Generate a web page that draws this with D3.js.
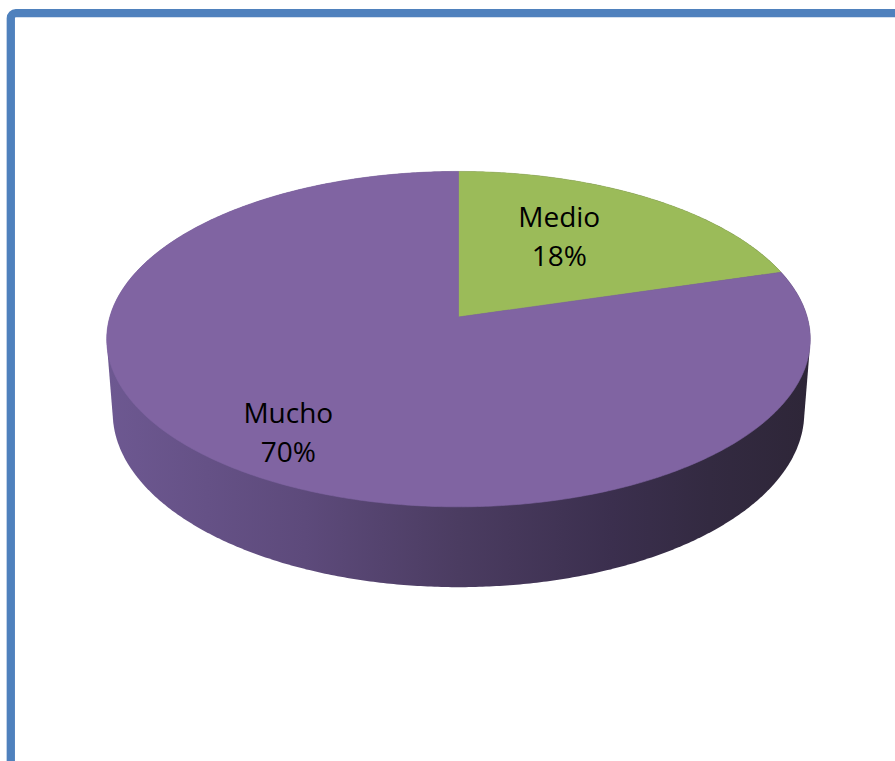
<!DOCTYPE html>
<html>
<head>
<meta charset="utf-8">
<script src="https://cdn.jsdelivr.net/npm/d3@7"></script>
<style>
  html, body { margin: 0; padding: 0; background: #ffffff; }
  svg { display: block; }
</style>
</head>
<body>
<svg id="chart" width="895" height="761"></svg>
<script>
// Survey answers and their shares
const categories = ["Medio", "Mucho"];
const values = [18, 70];
const percentLabels = ["18%", "70%"];
const sliceColors = ["#9BBB59", "#8064A2"];

const W = 895, H = 761;
const svg = d3.select("#chart");

// Rounded blue frame running off the right and bottom edges
svg.append("rect")
  .attr("x", 10.8).attr("y", 13.2)
  .attr("width", W + 20).attr("height", H + 20)
  .attr("rx", 5)
  .attr("fill", "#ffffff")
  .attr("stroke", "#4F81BD")
  .attr("stroke-width", 8.3);

// Simple perspective camera for a tilted 3D disc
const cx = 458.5, cy = 317;          // screen position of the disc centre
const scale = 348.7;                  // pixels per unit radius
const tilt = 28.2 * Math.PI / 180;    // elevation of the viewpoint
const dist = 6.68;                    // camera distance in radius units
const thickness = 0.242;              // disc height in radius units
const sinA = Math.sin(tilt), cosA = Math.cos(tilt);

// theta: clockwise from the far point (12 o'clock), r: radius, y: height
function project(theta, r, y) {
  const x = r * Math.sin(theta);
  const z = -r * Math.cos(theta);
  const up = -z * sinA + y * cosA;
  const toward = z * cosA + y * sinA;
  const s = dist / (dist - toward);
  return [cx + scale * x * s, cy - scale * up * s];
}

const pie = d3.pie().sort(null).value(d => d);
const arcs = pie(values);

const defs = svg.append("defs");
const sideGrad = defs.append("linearGradient")
  .attr("id", "sideShade")
  .attr("gradientUnits", "userSpaceOnUse")
  .attr("x1", cx - scale).attr("y1", 0)
  .attr("x2", cx + scale).attr("y2", 0);
[[0, "#6d5891"], [0.28, "#5d4a7b"], [0.5, "#4b3c61"], [0.72, "#3b2f4e"], [0.86, "#332a41"], [1, "#2e2638"]]
  .forEach(([o, c]) => sideGrad.append("stop").attr("offset", o).attr("stop-color", c));

// Outer wall: convex outline of the top and bottom rims
const rimPts = [];
const N = 720;
for (let i = 0; i < N; i++) {
  const t = i / N * 2 * Math.PI;
  rimPts.push(project(t, 1, 0));
  rimPts.push(project(t, 1, -thickness));
}
const hull = d3.polygonHull(rimPts);
svg.append("path")
  .attr("d", "M" + hull.map(p => p.join(",")).join("L") + "Z")
  .attr("fill", "url(#sideShade)");

// Top face slices
const line = d3.line();
arcs.forEach((a, i) => {
  const pts = [project(0, 0, 0)];
  const steps = Math.max(8, Math.ceil((a.endAngle - a.startAngle) / 0.01));
  for (let j = 0; j <= steps; j++) {
    const t = a.startAngle + (a.endAngle - a.startAngle) * j / steps;
    pts.push(project(t, 1, 0));
  }
  svg.append("path")
    .attr("d", line(pts) + "Z")
    .attr("fill", sliceColors[i])
    .attr("stroke", sliceColors[i])
    .attr("stroke-width", 0.6)
    .attr("stroke-linejoin", "round");
});

// Data labels: position inside each slice (fraction of its sweep, radius)
const labelSpots = [{ t: 0.40, r: 0.63 }, { t: 0.496, r: 0.768 }];
arcs.forEach((a, i) => {
  const spot = labelSpots[i];
  const ang = a.startAngle + (a.endAngle - a.startAngle) * spot.t;
  const [lx, ly] = project(ang, spot.r, 0);
  const g = svg.append("text")
    .attr("x", lx).attr("y", ly)
    .attr("text-anchor", "middle")
    .attr("font-family", "'Open Sans', sans-serif")
    .attr("font-size", 28)
    .attr("fill", "#000000");
  g.append("tspan").attr("x", lx).attr("y", ly - 6).text(categories[i]);
  g.append("tspan").attr("x", lx).attr("y", ly + 33).text(percentLabels[i]);
});
</script>
</body>
</html>
